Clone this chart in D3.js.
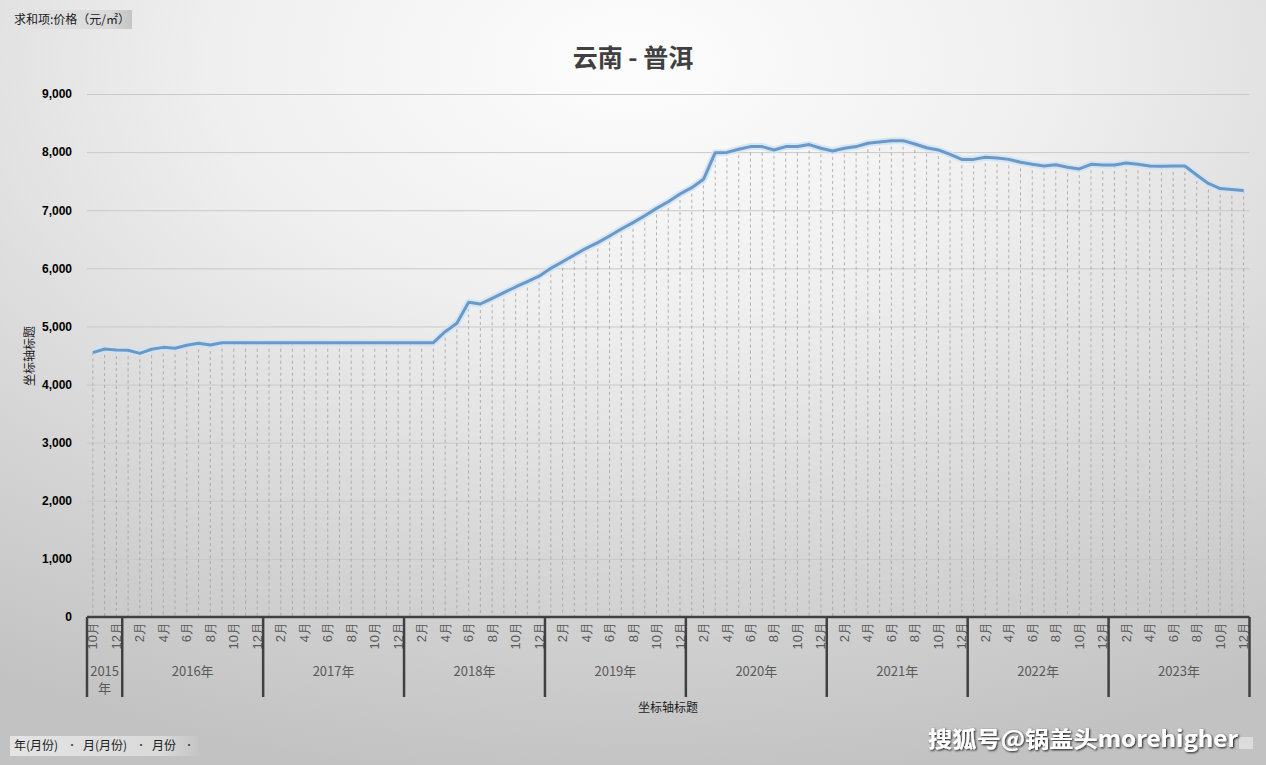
<!DOCTYPE html>
<html><head><meta charset="utf-8">
<script src="https://cdn.jsdelivr.net/npm/d3@7"></script>
<style>
html,body{margin:0;padding:0;overflow:hidden;}
svg{display:block;font-family:"Noto Sans CJK SC","Microsoft YaHei",sans-serif;}
</style></head>
<body>
<svg id="c" width="1266" height="765"></svg>
<script>
// ---- data ----
const title = "云南 - 普洱";
const valueFieldLabel = "求和项:价格（元/㎡）";
const axisTitle = "坐标轴标题";
const filterButtons = ["年(月份)", "月(月份)", "月份"];
const years = [2015, 2016, 2017, 2018, 2019, 2020, 2021, 2022, 2023];
const startMonth = 10; // first year starts in October
const yTicks = [0, 1000, 2000, 3000, 4000, 5000, 6000, 7000, 8000, 9000];
const prices2015 = [4550, 4612, 4595];
const prices2016 = [4590, 4537, 4607, 4640, 4624, 4676, 4710, 4680, 4720, 4720, 4720, 4720];
const prices2017 = [4720, 4720, 4720, 4720, 4720, 4720, 4720, 4720, 4720, 4720, 4720, 4720];
const prices2018 = [4720, 4720, 4720, 4910, 5054, 5415, 5386, 5484, 5581, 5679, 5771, 5865];
const prices2019 = [6000, 6114, 6230, 6345, 6442, 6557, 6677, 6786, 6906, 7032, 7147, 7279];
const prices2020 = [7388, 7532, 7990, 7995, 8050, 8095, 8095, 8037, 8095, 8095, 8130, 8066];
const prices2021 = [8020, 8066, 8095, 8152, 8174, 8197, 8197, 8140, 8076, 8037, 7960, 7875];
const prices2022 = [7875, 7910, 7900, 7875, 7825, 7790, 7761, 7784, 7739, 7710, 7790, 7778];
const prices2023 = [7778, 7813, 7790, 7761, 7755, 7761, 7761, 7606, 7460, 7373, 7356, 7340];
const watermark = "搜狐号@锅盖头morehigher";

// ---- build rows ----
const yearPrices = [prices2015, prices2016, prices2017, prices2018, prices2019, prices2020, prices2021, prices2022, prices2023];
const rows = [];
years.forEach((y, yi) => {
  yearPrices[yi].forEach((v, k) => {
    const m = yi === 0 ? startMonth + k : k + 1;
    rows.push({key: y + "-" + m, year: y, month: m, value: v});
  });
});

const svg = d3.select("#c");
const W = 1266, H = 765;
const defs = svg.append("defs");

// background
const bg = defs.append("radialGradient").attr("id", "bg")
  .attr("cx", "50%").attr("cy", "8%").attr("r", "95%");
bg.append("stop").attr("offset", "0%").attr("stop-color", "#fdfdfd");
bg.append("stop").attr("offset", "35%").attr("stop-color", "#efefef");
bg.append("stop").attr("offset", "70%").attr("stop-color", "#d6d6d6");
bg.append("stop").attr("offset", "100%").attr("stop-color", "#c2c2c2");
svg.append("rect").attr("width", W).attr("height", H).attr("fill", "url(#bg)");

const btnGrad = defs.append("linearGradient").attr("id", "btn").attr("x1", 0).attr("x2", 1).attr("y1", 0).attr("y2", 0);
btnGrad.append("stop").attr("offset", "0%").attr("stop-color", "#e4e4e4");
btnGrad.append("stop").attr("offset", "80%").attr("stop-color", "#dadada");
btnGrad.append("stop").attr("offset", "100%").attr("stop-color", "#c4c4c4");

const shadow = defs.append("filter").attr("id", "wm").attr("x", "-5%").attr("y", "-30%").attr("width", "110%").attr("height", "160%");
shadow.append("feDropShadow").attr("dx", 1).attr("dy", 1).attr("stdDeviation", 1.2).attr("flood-color", "#000").attr("flood-opacity", 0.9);

// scales
const x = d3.scaleBand().domain(rows.map(d => d.key)).range([87, 1249.5]).padding(0);
const y = d3.scaleLinear().domain([0, 9000]).range([617, 94]);
const cx = k => x(k) + x.bandwidth() / 2;

// gridlines
svg.append("g").attr("class", "grid")
  .attr("transform", "translate(87,0)")
  .call(d3.axisLeft(y).tickValues(yTicks.filter(t => t > 0)).tickSize(-(1249.5 - 87)).tickFormat(""))
  .call(g => g.select(".domain").remove())
  .call(g => g.selectAll("line").attr("stroke", "#c9c9c9").attr("stroke-width", 1));

// y axis labels
svg.append("g").attr("transform", "translate(72,0)")
  .call(d3.axisLeft(y).tickValues(yTicks).tickSize(0).tickPadding(0).tickFormat(d3.format(",")))
  .call(g => g.select(".domain").remove())
  .call(g => g.selectAll("text").attr("font-family", "'Liberation Sans',Arial,sans-serif")
    .attr("font-weight", "bold").attr("font-size", 12).attr("fill", "#000"));

// drop lines
svg.append("g").selectAll("line").data(rows).join("line")
  .attr("x1", d => cx(d.key)).attr("x2", d => cx(d.key))
  .attr("y1", d => y(d.value)).attr("y2", y(0))
  .attr("stroke", "#a0a0a0").attr("stroke-width", 0.8).attr("stroke-dasharray", "3,3");

// line
const line = d3.line().x(d => cx(d.key)).y(d => y(d.value));
svg.append("path").datum(rows).attr("d", line).attr("fill", "none")
  .attr("stroke", "#cfe2f5").attr("stroke-width", 7).attr("stroke-linejoin", "round").attr("opacity", 0.8);
svg.append("path").datum(rows).attr("d", line).attr("fill", "none")
  .attr("stroke", "#6a99c8").attr("stroke-width", 3).attr("stroke-linejoin", "round");

// x axis baseline
svg.append("line").attr("x1", 87).attr("x2", 1249.5).attr("y1", 617).attr("y2", 617)
  .attr("stroke", "#404040").attr("stroke-width", 2.5);

// month labels
const xAxis = svg.append("g").attr("transform", "translate(0,617)")
  .call(d3.axisBottom(x).tickSize(0).tickFormat((k, i) => i % 2 === 0 ? rows[i].month + "月" : ""))
  .call(g => g.select(".domain").remove());
xAxis.selectAll("text")
  .attr("transform", "rotate(-90)")
  .attr("x", -5).attr("y", 0).attr("dy", "0.35em")
  .attr("text-anchor", "end")
  .attr("font-size", 13).attr("fill", "#595959");

// year separators and labels
const yearGroups = d3.groups(rows, d => d.year);
const bounds = [];
yearGroups.forEach(([yr, arr]) => {
  const x0 = x(arr[0].key), x1 = x(arr[arr.length - 1].key) + x.bandwidth();
  bounds.push(x0);
  const mid = (x0 + x1) / 2;
  if (x1 - x0 < 60) {
    svg.append("text").attr("x", mid).attr("y", 676).attr("text-anchor", "middle")
      .attr("font-size", 13).attr("fill", "#595959").text(String(yr));
    svg.append("text").attr("x", mid).attr("y", 693).attr("text-anchor", "middle")
      .attr("font-size", 13).attr("fill", "#595959").text("年");
  } else {
    svg.append("text").attr("x", mid).attr("y", 676).attr("text-anchor", "middle")
      .attr("font-size", 13).attr("fill", "#595959").text(yr + "年");
  }
});
bounds.push(x(rows[rows.length - 1].key) + x.bandwidth());
svg.append("g").selectAll("line").data(bounds).join("line")
  .attr("x1", d => d).attr("x2", d => d).attr("y1", 617).attr("y2", 697)
  .attr("stroke", "#404040").attr("stroke-width", 2.5);

// title
svg.append("text").attr("x", 633).attr("y", 67).attr("text-anchor", "middle")
  .attr("font-size", 25).attr("font-weight", "bold").attr("fill", "#404040").text(title);

// axis titles
svg.append("text").attr("transform", "translate(34,356) rotate(-90)").attr("text-anchor", "middle")
  .attr("font-size", 12).attr("fill", "#1a1a1a").text(axisTitle);
svg.append("text").attr("x", 668).attr("y", 712).attr("text-anchor", "middle")
  .attr("font-size", 12).attr("fill", "#1a1a1a").text(axisTitle);

// pivot field buttons
svg.append("rect").attr("x", 12).attr("y", 10).attr("width", 120).attr("height", 19).attr("fill", "url(#btn)");
svg.append("text").attr("x", 14).attr("y", 24).attr("font-size", 12).attr("fill", "#1a1a1a").text(valueFieldLabel);

svg.append("rect").attr("x", 10).attr("y", 736).attr("width", 189).attr("height", 20).attr("fill", "url(#btn)");
const btnX = [14, 83, 152];
const dotX = [72, 141, 189];
filterButtons.forEach((t, i) => {
  svg.append("text").attr("x", btnX[i]).attr("y", 750).attr("font-size", 12).attr("fill", "#1a1a1a").text(t);
  svg.append("text").attr("x", dotX[i]).attr("y", 749).attr("text-anchor", "middle").attr("font-size", 10).attr("fill", "#444").text("·");
});

// watermark
svg.append("rect").attr("x", 1239).attr("y", 737).attr("width", 14).attr("height", 12).attr("fill", "#dcdcdc");
svg.append("text").attr("x", 928).attr("y", 747).attr("font-size", 22).attr("font-weight", "bold")
  .attr("textLength", 310).attr("lengthAdjust", "spacingAndGlyphs")
  .attr("fill", "#ffffff").attr("filter", "url(#wm)").text(watermark);
</script>
</body></html>
